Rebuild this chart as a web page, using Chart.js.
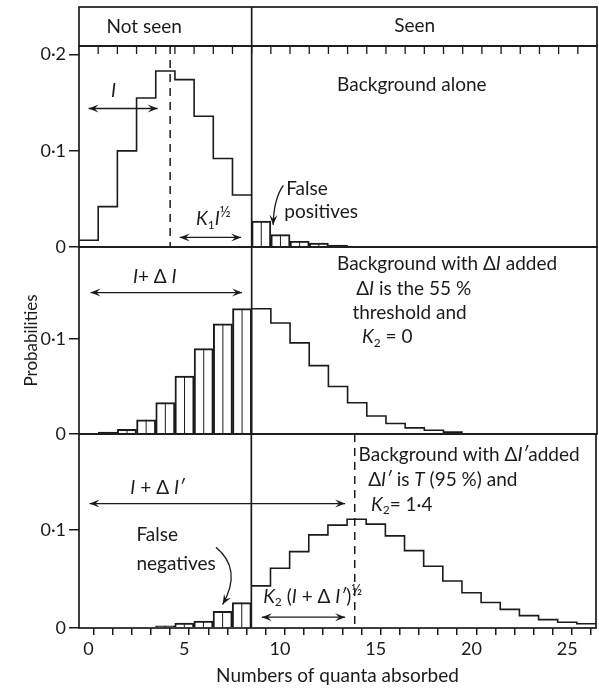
<!DOCTYPE html>
<html>
<head>
<meta charset="utf-8">
<title>Numbers of quanta absorbed</title>
<script src="https://cdn.jsdelivr.net/npm/chart.js"></script>
<style>
  html, body { margin: 0; background: #fff; }
  body { position: relative; width: 599px; height: 689px; overflow: hidden; }
  .panel { position: absolute; left: 0; width: 599px; }
</style>
</head>
<body>
<div class="panel" style="top:0;height:262px"><canvas id="bgChart"></canvas></div>
<div class="panel" style="top:232px;height:217px"><canvas id="thrChart"></canvas></div>
<div class="panel" style="top:419px;height:270px"><canvas id="tChart"></canvas></div>
<script>
const INK = '#1b1b1b';
const FONT = 'Lato, "Open Sans", sans-serif';

// axis ticks
const X_LABELS = [0, 5, 10, 15, 20, 25];
const Y_TICKS = [0, 0.1, 0.2];
const THRESHOLD = 8.5;

// background alone
const BG_NOT_SEEN_Q = [0, 1, 2, 3, 4, 5, 6, 7, 8];
const BG_NOT_SEEN = [0.007, 0.042, 0.100, 0.155, 0.183, 0.174, 0.136, 0.092, 0.054];
const BG_FALSE_POS_Q = [9, 10, 11, 12, 13];
const BG_FALSE_POS = [0.027, 0.013, 0.006, 0.004, 0.002];

// background with dI added (55 % threshold)
const DI_NOT_SEEN_Q = [1, 2, 3, 4, 5, 6, 7, 8];
const DI_NOT_SEEN = [0.002, 0.005, 0.015, 0.033, 0.061, 0.090, 0.116, 0.132];
const DI_SEEN_Q = [9, 10, 11, 12, 13, 14, 15, 16, 17, 18, 19];
const DI_SEEN = [0.132, 0.117, 0.096, 0.072, 0.050, 0.033, 0.019, 0.011, 0.0065, 0.004, 0.002];

// background with dI' added (95 %)
const T_FALSE_NEG_Q = [4, 5, 6, 7, 8];
const T_FALSE_NEG = [0.0023, 0.005, 0.007, 0.017, 0.026];
const T_SEEN_Q = [9, 10, 11, 12, 13, 14, 15, 16, 17, 18, 19, 20, 21, 22, 23, 24, 25, 26];
const T_SEEN = [0.043, 0.061, 0.078, 0.095, 0.105, 0.111, 0.106, 0.094, 0.079,
                0.063, 0.048, 0.036, 0.026, 0.019, 0.0126, 0.0085, 0.0058, 0.0044];

Chart.defaults.font.family = FONT;
Chart.defaults.color = INK;

const points = (q, v) => q.map((x, i) => ({ x, y: v[i] }));
// step outline running edge to edge of the bins
const outline = (q, v) => [{ x: q[0] - 0.5, y: v[0] }, ...points(q, v), { x: q[q.length - 1] + 0.5, y: v[v.length - 1] }];

const stepSet = (q, v) => ({
  type: 'line', data: outline(q, v), stepped: 'middle',
  borderColor: INK, borderWidth: 1.6, pointRadius: 0, fill: false,
});
const barSet = (q, v) => ({
  type: 'bar', data: points(q, v),
  backgroundColor: 'rgba(0,0,0,0)', borderColor: INK, borderWidth: 1.3,
  barThickness: 'flex', categoryPercentage: 1, barPercentage: 1,
});

// ---- drawing helpers ----
function line(ctx, x1, y1, x2, y2, w, dash) {
  ctx.beginPath();
  ctx.lineWidth = w;
  ctx.setLineDash(dash || []);
  ctx.moveTo(x1, y1);
  ctx.lineTo(x2, y2);
  ctx.stroke();
  ctx.setLineDash([]);
}
function head(ctx, x, y, ang) {
  const L = 10, W = 4, c = Math.cos(ang), s = Math.sin(ang);
  ctx.beginPath();
  ctx.moveTo(x, y);
  ctx.lineTo(x - L * c - W * s, y - L * s + W * c);
  ctx.lineTo(x - 0.6 * L * c, y - 0.6 * L * s);
  ctx.lineTo(x - L * c + W * s, y - L * s - W * c);
  ctx.closePath();
  ctx.fill();
}
function arrow(ctx, x1, y1, x2, y2, both) {
  line(ctx, x1, y1, x2, y2, 1.3);
  head(ctx, x2, y2, Math.atan2(y2 - y1, x2 - x1));
  if (both) head(ctx, x1, y1, Math.atan2(y1 - y2, x1 - x2));
}
function curveArrow(ctx, p0, c, p1) {
  ctx.beginPath();
  ctx.lineWidth = 1.3;
  ctx.moveTo(p0[0], p0[1]);
  ctx.quadraticCurveTo(c[0], c[1], p1[0], p1[1]);
  ctx.stroke();
  head(ctx, p1[0], p1[1], Math.atan2(p1[1] - c[1], p1[0] - c[0]));
}
// text made of runs: ['text', ''|'i'|'sub'|'sup']
function rich(ctx, x, y, parts, align, size = 19) {
  if (typeof parts === 'string') parts = [[parts, '']];
  const fontOf = s => (s === 'i' ? 'italic ' : '') +
    (s === 'sub' ? Math.round(size * 0.62) : s === 'sup' ? Math.round(size * 0.8) : size) + 'px ' + FONT;
  let w = 0;
  parts.forEach(([t, s]) => { ctx.font = fontOf(s); w += ctx.measureText(t).width; });
  let cx = align === 'center' ? x - w / 2 : x;
  ctx.textAlign = 'left';
  ctx.textBaseline = 'middle';
  parts.forEach(([t, s]) => {
    ctx.font = fontOf(s);
    const dy = s === 'sub' ? size * 0.3 : s === 'sup' ? -size * 0.35 : 0;
    ctx.fillText(t, cx, y + dy);
    cx += ctx.measureText(t).width;
  });
}

function decor(draw) {
  return {
    id: 'decor',
    afterDraw(chart) {
      const { ctx, chartArea: a, scales: { x, y } } = chart;
      const X = v => x.getPixelForValue(v), Y = v => y.getPixelForValue(v);
      ctx.save();
      ctx.strokeStyle = INK;
      ctx.fillStyle = INK;
      // split line inside each shaded bar
      chart.data.datasets.forEach((ds, i) => {
        if (ds.type !== 'bar') return;
        chart.getDatasetMeta(i).data.forEach(b => line(ctx, b.x, b.base, b.x, b.y, 1));
      });
      ctx.lineWidth = 1.7;
      ctx.strokeRect(a.left, a.top, a.right - a.left, a.bottom - a.top);
      line(ctx, X(THRESHOLD), a.top, X(THRESHOLD), a.bottom, 1.7);
      draw({ ctx, a, X, Y });
      ctx.restore();
    },
  };
}

function xScale(show) {
  const s = {
    type: 'linear', min: -0.5, max: 26.5, offset: false, display: show,
    border: { display: false },
    grid: {
      drawOnChartArea: false, tickLength: 7, lineWidth: 1.5,
      // tick marks on the bin edges only
      color: c => (c.tick && Number.isInteger(c.tick.value)) ? 'rgba(0,0,0,0)' : INK,
    },
    ticks: {
      stepSize: 0.5, autoSkip: false, maxRotation: 0, minRotation: 0, padding: 3,
      font: { size: 18 }, callback: v => X_LABELS.includes(v) ? String(v) : '',
    },
    title: { display: show, text: 'Numbers of quanta absorbed', font: { size: 19 }, padding: { top: 0, bottom: 2 } },
  };
  if (show) s.afterFit = sc => { sc.height = 61; };
  return s;
}

function yScale(max, title) {
  return {
    type: 'linear', min: 0, max,
    afterFit: s => { s.width = 79; },
    afterBuildTicks: s => { s.ticks = Y_TICKS.filter(v => v <= s.max).map(value => ({ value })); },
    border: { display: false },
    grid: { drawOnChartArea: false, tickLength: 10, lineWidth: 1.5, color: INK },
    ticks: { padding: 3, font: { size: 18 }, callback: v => String(v).replace('.', '·') },
    title: { display: !!title, text: title || '', font: { size: 17 }, padding: { top: 21, bottom: 0 } },
  };
}

function panel(id, datasets, yMax, pad, showX, yTitle, draw) {
  return new Chart(document.getElementById(id), {
    type: 'line',
    data: { datasets },
    options: {
      responsive: true,
      maintainAspectRatio: false,
      animation: false,
      layout: { padding: { top: pad[0], bottom: pad[1], left: 0, right: 2 } },
      plugins: { legend: { display: false }, tooltip: { enabled: false } },
      scales: { x: xScale(showX), y: yScale(yMax, yTitle) },
    },
    plugins: [decor(draw)],
  });
}

// 1. Background alone
panel('bgChart', [stepSet(BG_NOT_SEEN_Q, BG_NOT_SEEN), barSet(BG_FALSE_POS_Q, BG_FALSE_POS)],
  0.209, [46, 15], false, '', ({ ctx, a, X, Y }) => {
    const top = a.top - 39;
    ctx.lineWidth = 1.7;
    ctx.strokeRect(a.left, top, a.right - a.left, a.top - top);
    line(ctx, X(THRESHOLD), top, X(THRESHOLD), a.top, 1.7);
    for (let e = 0.5; e < 26; e++) line(ctx, X(e), a.top, X(e), a.top + 8, 1.3);
    rich(ctx, X(2.9), top + 20, 'Not seen', 'center');
    rich(ctx, X(17.0), top + 19, 'Seen', 'center');
    line(ctx, X(4.25), a.top, X(4.25), a.bottom, 1.5, [8, 6]);
    arrow(ctx, X(0), Y(0.144), X(3.6), Y(0.144), true);
    rich(ctx, X(1.3), Y(0.162), [['I', 'i']], 'center');
    arrow(ctx, X(4.75), Y(0.01), X(7.95), Y(0.01), true);
    rich(ctx, X(6.5), Y(0.029), [['K', 'i'], ['1', 'sub'], ['I', 'i'], ['½', 'sup']], 'center');
    rich(ctx, X(16.85), Y(0.169), 'Background alone', 'center');
    rich(ctx, X(10.3), Y(0.060), 'False');
    rich(ctx, X(10.2), Y(0.037), 'positives');
    curveArrow(ctx, [X(10.15), Y(0.064)], [X(9.65), Y(0.05)], [X(9.62), Y(0.023)]);
  });

// 2. Background with dI added
panel('thrChart', [barSet(DI_NOT_SEEN_Q, DI_NOT_SEEN), stepSet(DI_SEEN_Q, DI_SEEN)],
  0.197, [15, 15], false, 'Probabilities', ({ ctx, X, Y }) => {
    arrow(ctx, X(0.1), Y(0.149), X(8.0), Y(0.149), true);
    rich(ctx, X(3.45), Y(0.166), [['I', 'i'], ['+ ', ''], ['Δ ', ''], ['I', 'i']], 'center');
    rich(ctx, X(12.95), Y(0.179), [['Background with ', ''], ['Δ', ''], ['I', 'i'], [' added', '']]);
    rich(ctx, X(13.95), Y(0.153), [['Δ', ''], ['I', 'i'], [' is the 55 %', '']]);
    rich(ctx, X(13.75), Y(0.128), 'threshold and');
    rich(ctx, X(14.25), Y(0.102), [['K', 'i'], ['2', 'sub'], [' = 0', '']]);
  });

// 3. Background with dI' added
panel('tChart', [barSet(T_FALSE_NEG_Q, T_FALSE_NEG), stepSet(T_SEEN_Q, T_SEEN)],
  0.198, [15, 0], true, '', ({ ctx, a, X, Y }) => {
    line(ctx, X(13.9), a.top, X(13.9), a.bottom, 1.5, [8, 6]);
    arrow(ctx, X(0.05), Y(0.127), X(13.4), Y(0.127), true);
    rich(ctx, X(3.6), Y(0.143), [['I', 'i'], [' + ', ''], ['Δ ', ''], ['I′', 'i']], 'center');
    rich(ctx, X(14.1), Y(0.177), [['Background with ', ''], ['Δ', ''], ['I′', 'i'], ['added', '']]);
    rich(ctx, X(14.6), Y(0.151), [['Δ', ''], ['I′', 'i'], [' is ', ''], ['T', 'i'], [' (95 %) and', '']]);
    rich(ctx, X(14.75), Y(0.126), [['K', 'i'], ['2', 'sub'], ['= 1·4', '']]);
    rich(ctx, X(2.5), Y(0.095), 'False');
    rich(ctx, X(2.5), Y(0.065), 'negatives');
    curveArrow(ctx, [X(6.65), Y(0.0825)], [X(8.05), Y(0.06)], [X(7.0), Y(0.024)]);
    arrow(ctx, X(9.05), Y(0.011), X(13.4), Y(0.011), true);
    rich(ctx, X(11.7), Y(0.032), [['K', 'i'], ['2', 'sub'], [' (', ''], ['I', 'i'], [' + ', ''], ['Δ ', ''], ['I′', 'i'], [')', ''], ['½', 'sup']], 'center');
  });
</script>
</body>
</html>
